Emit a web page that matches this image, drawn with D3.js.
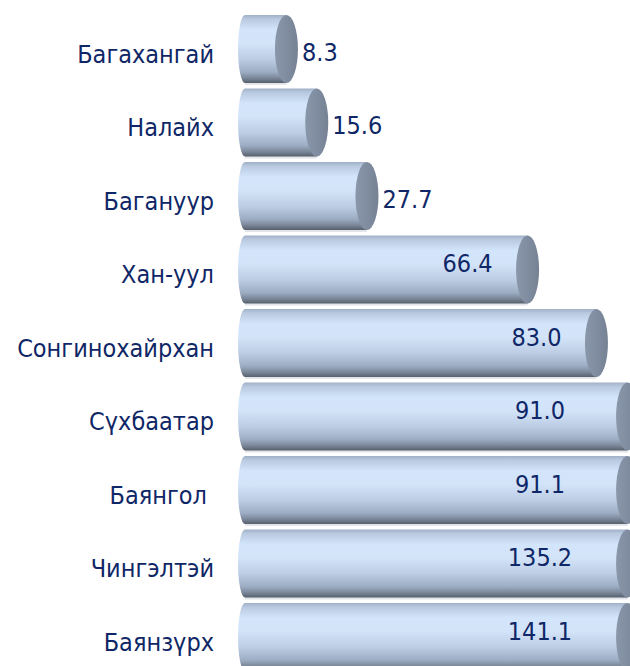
<!DOCTYPE html>
<html>
<head>
<meta charset="utf-8">
<script src="https://cdn.jsdelivr.net/npm/d3@7"></script>
<style>
  html, body { margin: 0; padding: 0; background: #ffffff; }
  svg { display: block; }
</style>
</head>
<body>
<div id="chart"></div>
<script>
// ---- data ----
const categories = ["Багахангай", "Налайх", "Багануур", "Хан-уул", "Сонгинохайрхан", "Сүхбаатар", "Баянгол ", "Чингэлтэй", "Баянзүрх"];
const values = [8.3, 15.6, 27.7, 66.4, 83.0, 91.0, 91.1, 135.2, 141.1];
const valueLabels = ["8.3", "15.6", "27.7", "66.4", "83.0", "91.0", "91.1", "135.2", "141.1"];

// ---- layout ----
const W = 630, H = 666;
const svg = d3.select("#chart").append("svg").attr("width", W).attr("height", H);
const FONT = "'DejaVu Sans Condensed', 'DejaVu Sans', Verdana, sans-serif";

const xMax = 90.5;
const x = d3.scaleLinear().domain([0, xMax]).range([252, 252 + 4.15 * xMax]).clamp(true);
const y = d3.scaleBand().domain(categories).range([15, 671]).paddingInner(0.075).paddingOuter(0);

const defs = svg.append("defs");
const g = defs.append("linearGradient").attr("id", "cyl").attr("x1", 0).attr("y1", 0).attr("x2", 0).attr("y2", 1);
[[0, "#a0b0c7"], [0.06, "#b8c9e0"], [0.22, "#d3e5fb"], [0.42, "#d3e4f9"], [0.65, "#bccde4"], [0.84, "#9cacc3"], [0.93, "#7a8698"], [1, "#565f6c"]]
  .forEach(([o, c]) => g.append("stop").attr("offset", o).attr("stop-color", c));
const gl = defs.append("linearGradient").attr("id", "capl").attr("x1", 0).attr("y1", 0).attr("x2", 1).attr("y2", 0);
[[0, "#8a97ab"], [1, "#768294"]].forEach(([o, c]) => gl.append("stop").attr("offset", o).attr("stop-color", c));

const leftRx = 7, capRx = 11.5;
const bw = y.bandwidth();

const bars = svg.append("g").selectAll("g").data(categories).join("g");

// shadow
bars.append("path")
  .attr("d", (d, i) => {
    const top = y(d) + 3, bot = y(d) + bw + 2;
    const xl = x(0) - leftRx, xr = x(values[i]);
    return `M${xl},${top} L${xr},${top} L${xr},${bot} L${xl},${bot} Z`;
  })
  .attr("fill", "#d0d4da").attr("opacity", 0.6);

// body
bars.append("path")
  .attr("d", (d, i) => {
    const top = y(d), bot = y(d) + bw, ry = bw / 2;
    const xl = x(0) - leftRx, xr = x(values[i]);
    return `M${xr},${top} L${xl},${top} A${leftRx},${ry} 0 0 0 ${xl},${bot} L${xr},${bot} Z`;
  })
  .attr("fill", "url(#cyl)");

// end cap
bars.append("ellipse")
  .attr("cx", (d, i) => x(values[i]))
  .attr("cy", d => y(d) + bw / 2)
  .attr("rx", capRx)
  .attr("ry", bw / 2)
  .attr("fill", "url(#capl)");

// category labels
svg.append("g").selectAll("text").data(categories).join("text")
  .attr("x", 214)
  .attr("y", d => y(d) + bw / 2 + 5)
  .attr("dy", "0.35em")
  .attr("text-anchor", "end")
  .attr("font-family", FONT)
  .attr("font-size", 25)
  .attr("fill", "#0f2766")
  .style("white-space", "pre")
  .text(d => d);

// value labels
svg.append("g").selectAll("text").data(categories).join("text")
  .each(function (d, i) {
    const len = x(values[i]) - x(0);
    const t = d3.select(this);
    const cy = y(d) + bw / 2;
    if (len < 150) {
      t.attr("x", x(values[i]) + capRx + 4).attr("text-anchor", "start").attr("y", cy + 3);
    } else {
      t.attr("x", Math.min(x(values[i]) - 60, 540)).attr("text-anchor", "middle").attr("y", cy - 6);
    }
  })
  .attr("dy", "0.35em")
  .attr("font-family", FONT)
  .attr("font-size", 25)
  .attr("fill", "#0f2766")
  .text((d, i) => valueLabels[i]);
</script>
</body>
</html>
